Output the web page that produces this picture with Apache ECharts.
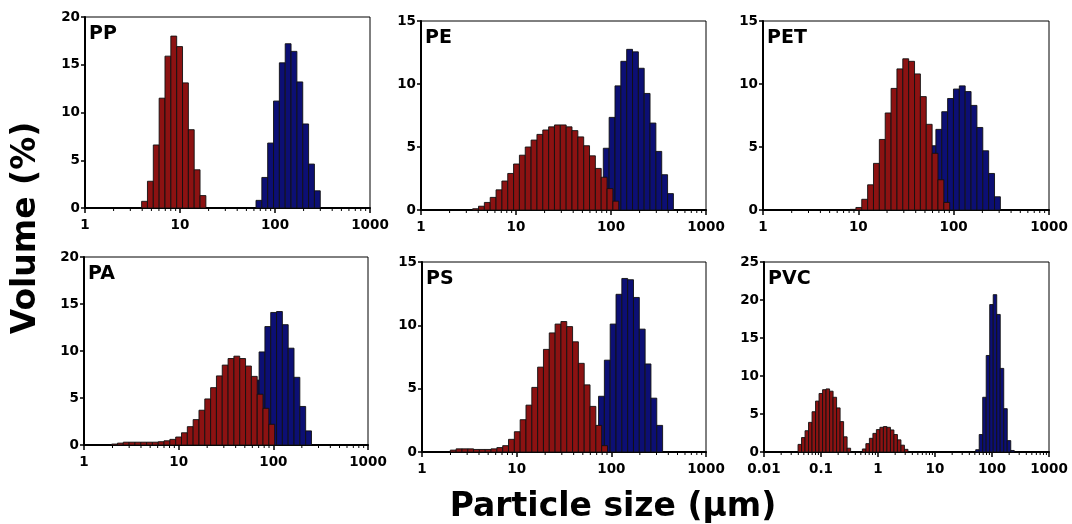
<!DOCTYPE html>
<html>
<head>
<meta charset="utf-8">
<script src="https://cdn.jsdelivr.net/npm/echarts@6/dist/echarts.min.js"></script>
<style>
  html, body { margin: 0; background: #fff; }
  #chart { width: 1072px; height: 524px; }
</style>
</head>
<body>
<div id="chart"></div>
<script>
// histogram bin width, in decades of particle size
const BIN_STEP = 0.0615;

// start of each series = log10 of the lower edge of its first bin (µm)
const ppRedStart = 0.596;
const ppRed = [0.7, 2.8, 6.6, 11.5, 15.9, 18.0, 16.9, 13.1, 8.2, 4.0, 1.3];
const ppBlueStart = 1.80;
const ppBlue = [0.8, 3.2, 6.8, 11.2, 15.2, 17.2, 16.4, 13.2, 8.8, 4.6, 1.8];

const peRedStart = 0.544;
const peRed = [0.1, 0.3, 0.6, 1.0, 1.6, 2.3, 2.9, 3.65, 4.35, 5.0, 5.55, 6.0, 6.35,
  6.6, 6.75, 6.75, 6.6, 6.3, 5.8, 5.1, 4.3, 3.3, 2.6, 1.7, 0.7];
const peBlueStart = 1.919;
const peBlue = [4.9, 7.35, 9.85, 11.8, 12.75, 12.55, 11.25, 9.25, 6.9, 4.65, 2.8, 1.3];

const petRedStart = 0.913;
const petRed = [0.05, 0.2, 0.85, 2.0, 3.7, 5.6, 7.7, 9.65, 11.2, 12.0, 11.8, 10.8, 9.0,
  6.8, 4.5, 2.4, 0.6];
const petBlueStart = 1.752;
const petBlue = [5.1, 6.4, 7.8, 8.85, 9.6, 9.85, 9.4, 8.3, 6.55, 4.7, 2.9, 1.05];

const paRedStart = 0.292;
const paRed = [0.1, 0.2, 0.3, 0.3, 0.3, 0.3, 0.3, 0.3, 0.35, 0.45, 0.6, 0.85, 1.3, 1.95,
  2.7, 3.7, 4.9, 6.1, 7.35, 8.5, 9.2, 9.45, 9.2, 8.4, 7.3, 5.4, 3.9, 2.2];
const paBlueStart = 1.788;
const paBlue = [6.9, 9.9, 12.6, 14.1, 14.2, 12.8, 10.3, 7.2, 4.1, 1.5];

const psRedStart = 0.299;
const psRed = [0.15, 0.25, 0.25, 0.25, 0.2, 0.2, 0.2, 0.25, 0.35, 0.5, 1.0, 1.6, 2.55, 3.7,
  5.1, 6.7, 8.1, 9.4, 10.1, 10.3, 9.9, 8.7, 7.0, 5.3, 3.6, 2.1, 0.5];
const psBlueStart = 1.865;
const psBlue = [4.4, 7.25, 10.1, 12.45, 13.7, 13.6, 12.2, 9.7, 6.95, 4.25, 2.1];

const pvcRedAStart = -1.403;
const pvcRedA = [1.0, 1.9, 2.8, 3.9, 5.3, 6.7, 7.7, 8.2, 8.3, 8.0, 7.2, 5.8, 4.0, 2.0, 0.5];
const pvcRedBStart = -0.274;
const pvcRedB = [0.4, 1.1, 1.8, 2.45, 2.95, 3.25, 3.35, 3.25, 2.9, 2.3, 1.6, 0.9, 0.35];
const pvcBlueStart = 1.714;
const pvcBlue = [0.3, 2.3, 7.2, 12.7, 19.4, 20.7, 18.1, 11.0, 5.7, 1.5, 0.2];

const panelNames = ['PP', 'PE', 'PET', 'PA', 'PS', 'PVC'];
const yMax = [20, 15, 15, 20, 15, 25];
const xMin = [1, 1, 1, 1, 1, 0.01];
const xMax = [1000, 1000, 1000, 1000, 1000, 1000];
const redSets = [
  [[ppRedStart, ppRed]],
  [[peRedStart, peRed]],
  [[petRedStart, petRed]],
  [[paRedStart, paRed]],
  [[psRedStart, psRed]],
  [[pvcRedAStart, pvcRedA], [pvcRedBStart, pvcRedB]]
];
const blueSets = [
  [ppBlueStart, ppBlue],
  [peBlueStart, peBlue],
  [petBlueStart, petBlue],
  [paBlueStart, paBlue],
  [psBlueStart, psBlue],
  [pvcBlueStart, pvcBlue]
];

// plot boxes, in pixels
const boxes = [
  { left: 85, top: 17, width: 285, height: 191 },
  { left: 421, top: 21, width: 285, height: 189 },
  { left: 763, top: 21, width: 286, height: 189 },
  { left: 84, top: 257, width: 284, height: 188 },
  { left: 422, top: 262, width: 284, height: 190 },
  { left: 764, top: 262, width: 285, height: 190 }
];

const RED = '#8c1212';
const BLUE = '#0c0f74';
const FONT = 'DejaVu Sans';

function toBins(start, values) {
  return values.map((v, i) => [
    Math.pow(10, start + i * BIN_STEP),
    Math.pow(10, start + (i + 1) * BIN_STEP),
    v
  ]);
}

function minorTicks(min, max) {
  const out = [];
  for (let k = Math.round(Math.log10(min)); k < Math.round(Math.log10(max)); k++) {
    for (let m = 2; m <= 9; m++) out.push([m * Math.pow(10, k), 0]);
  }
  return out;
}

function barRenderer(fill) {
  return function (params, api) {
    const a = api.coord([api.value(0), api.value(2)]);
    const b = api.coord([api.value(1), 0]);
    return {
      type: 'rect',
      shape: { x: a[0], y: a[1], width: b[0] - a[0], height: b[1] - a[1] },
      style: { fill: fill, stroke: '#111', lineWidth: 0.9 }
    };
  };
}

function tickRenderer(params, api) {
  const p = api.coord([api.value(0), 0]);
  return {
    type: 'line',
    shape: { x1: p[0], y1: p[1], x2: p[0], y2: p[1] + 3 },
    style: { stroke: '#000', lineWidth: 1 }
  };
}

function fmtX(v) {
  return v >= 1 ? String(Math.round(v)) : String(+v.toFixed(2));
}

const grid = [], xAxis = [], yAxis = [], series = [], graphic = [];

boxes.forEach((b, i) => {
  grid.push({
    left: b.left, top: b.top, width: b.width, height: b.height,
    show: true, borderColor: '#000', borderWidth: 1, backgroundColor: '#fff'
  });
  xAxis.push({
    type: 'log', logBase: 10, gridIndex: i, min: xMin[i], max: xMax[i],
    axisLine: { lineStyle: { color: '#000', width: 2 } },
    axisTick: { length: 5, lineStyle: { color: '#000', width: 1.5 } },
    axisLabel: {
      color: '#000', fontFamily: FONT, fontWeight: 'bold', fontSize: 13.5,
      margin: 10, formatter: fmtX, showMinLabel: true, showMaxLabel: true
    },
    splitLine: { show: false }
  });
  yAxis.push({
    type: 'value', gridIndex: i, min: 0, max: yMax[i], interval: 5,
    axisLine: { show: true, lineStyle: { color: '#000', width: 2 } },
    axisTick: { show: true, length: 4, lineStyle: { color: '#000', width: 1.5 } },
    axisLabel: { color: '#000', fontFamily: FONT, fontWeight: 'bold', fontSize: 13.5, margin: 5 },
    splitLine: { show: false }
  });

  const [bs, bv] = blueSets[i];
  series.push({
    type: 'custom', xAxisIndex: i, yAxisIndex: i,
    renderItem: barRenderer(BLUE),
    encode: { x: [0, 1], y: 2 },
    data: toBins(bs, bv), silent: true
  });
  redSets[i].forEach(([rs, rv]) => {
    series.push({
      type: 'custom', xAxisIndex: i, yAxisIndex: i,
      renderItem: barRenderer(RED),
      encode: { x: [0, 1], y: 2 },
      data: toBins(rs, rv), silent: true
    });
  });
  series.push({
    type: 'custom', xAxisIndex: i, yAxisIndex: i,
    renderItem: tickRenderer, clip: false,
    encode: { x: 0, y: 1 },
    data: minorTicks(xMin[i], xMax[i]), silent: true, z: 5
  });

  graphic.push({
    type: 'text', left: b.left + 4, top: b.top + 8, z: 10,
    style: { text: panelNames[i], fill: '#000', font: 'bold 19px ' + FONT }
  });
});

graphic.push({
  type: 'text', x: 26, y: 228, rotation: Math.PI / 2, z: 10,
  style: {
    text: 'Volume (%)', fill: '#000', font: 'bold 33px ' + FONT,
    align: 'center', verticalAlign: 'middle'
  }
});
graphic.push({
  type: 'text', x: 613, y: 507, z: 10,
  style: {
    text: 'Particle size (µm)', fill: '#000', font: 'bold 33px ' + FONT,
    align: 'center', verticalAlign: 'middle'
  }
});

const chart = echarts.init(document.getElementById('chart'));
chart.setOption({
  animation: false,
  backgroundColor: '#fff',
  grid, xAxis, yAxis, series, graphic
});
</script>
</body>
</html>
